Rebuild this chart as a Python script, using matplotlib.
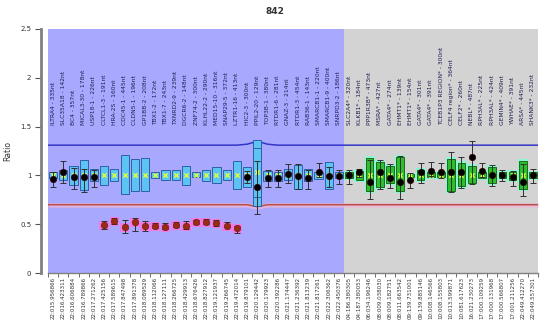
import matplotlib
matplotlib.use('Agg')
import matplotlib.pyplot as plt
import numpy as np

# probes (test region first, then reference probes marked *)
genes = [
    'ILTRA4 - 335nt', 'SLC35A18 - 142nt', 'BC4 - 357nt', 'MICAL3-30 - 178nt',
    'USP18-1 - 226nt', 'CLTCL1-3 - 191nt', 'HRA-2S - 160nt', 'CDC45-1 - 445nt',
    'CLDN5-1 - 196nt', 'GP1BB-2 - 208nt', 'TBX1-2 - 172nt', 'TBX1-7 - 243nt',
    'TXNRD2-9 - 239nt', 'DGCR6-2 - 148nt', 'ZNF74-2 - 300nt', 'KLHL22-2 - 290nt',
    'MED15-10 - 316nt', 'SNAP29-5 - 372nt', 'LZTR1-16 - 413nt', 'HIC2-3 - 300nt',
    'PPIL2-20 - 129nt', 'TOP3B-1 - 380nt', 'RTDR1-6 - 281nt', 'GNAZ-3 - 214nt',
    'RTDR1-3 - 454nt', 'RAB36-1 - 143nt', 'SMARCB1-1 - 220nt', 'SMARCB1-9 - 400nt',
    'SNRPD3-2 - 186nt',
    'SLC2A4* - 320nt', 'KLKB1* - 184nt', 'PPP1R3B* - 473nt', 'MSRA* - 427nt',
    'GATA4* - 274nt', 'EHMT1* - 139nt', 'EHMT1* - 154nt', 'GATA4* - 301nt',
    'GATA4* - 391nt', 'TCEB1P3 REGION* - 300nt', 'CELF4 region* - 364nt',
    'CELF2* - 260nt', 'NEBL* - 487nt', 'RPH3AL* - 225nt', 'RPH3AL* - 424nt',
    'GEMIN4* - 409nt', 'YWHAE* - 391nt', 'ARSA* - 445nt', 'SHANK3* - 232nt',
]
n_test = 29

coords = [
    '22:015.956866', '22:016.423311', '22:016.606884', '22:016.789866',
    '22:017.271262', '22:017.425156', '22:017.589615', '22:017.847498',
    '22:017.891378', '22:018.089529', '22:018.112066', '22:018.127111',
    '22:018.266725', '22:018.429913', '22:018.676426', '22:018.827912',
    '22:019.121937', '22:019.266745', '22:019.472014', '22:019.879101',
    '22:020.129442', '22:020.179923', '22:020.392286', '22:021.174447',
    '22:021.236392', '22:021.813239', '22:021.817261', '22:022.306362',
    '22:022.450376',
    '04:186.380305', '04:187.380053', '06:034.196246', '08:009.038030',
    '08:009.182751', '08:011.663542', '09:139.731001', '09:139.885146',
    '10:008.146566', '10:008.155803', '10:013.599871', '10:081.617623',
    '16:021.230273', '17:000.109259', '17:000.131968', '17:000.566807',
    '17:001.211256', '22:049.412270', '22:049.557301',
]

box_lo = [0.97, 0.95, 0.90, 0.85, 0.94, 0.90, 0.94, 0.81, 0.84, 0.84,
          0.97, 0.95, 0.95, 0.90, 0.98, 0.94, 0.92, 0.95, 0.86, 0.88,
          0.69, 0.94, 0.94, 0.95, 0.86, 0.94, 0.96, 0.86, 0.97,
          0.97, 0.95, 0.84, 0.88, 0.92, 0.84, 0.98, 0.95, 0.98, 0.98,
          0.84, 0.89, 0.92, 0.97, 0.92, 0.97, 0.95, 0.86, 0.97]
box_hi = [1.04, 1.06, 1.10, 1.16, 1.07, 1.10, 1.07, 1.21, 1.17, 1.18,
          1.04, 1.06, 1.06, 1.10, 1.03, 1.06, 1.09, 1.06, 1.15, 1.09,
          1.36, 1.05, 1.04, 1.07, 1.11, 1.07, 1.04, 1.14, 1.03,
          1.03, 1.05, 1.18, 1.14, 1.10, 1.19, 1.01, 1.06, 1.03, 1.03,
          1.17, 1.13, 1.10, 1.03, 1.09, 1.03, 1.04, 1.15, 1.03]
ref_mean = [1.0] * 20 + [1.03] + [1.0] * 27

ratio = [0.96, 1.03, 0.98, 0.98, 0.98, 0.49, 0.53, 0.47, 0.52, 0.48,
         0.48, 0.47, 0.49, 0.48, 0.52, 0.52, 0.51, 0.48, 0.46, 0.98,
         0.88, 0.97, 0.97, 1.01, 0.99, 0.97, 1.03, 0.99, 0.99,
         1.00, 1.04, 0.93, 1.03, 0.97, 0.93, 0.95, 1.03, 1.05, 1.04,
         1.03, 1.03, 1.19, 1.05, 1.00, 1.00, 0.98, 0.93, 1.00]
err_lo = [0.88, 0.92, 0.86, 0.83, 0.88, 0.45, 0.50, 0.41, 0.43, 0.43,
          0.46, 0.45, 0.47, 0.45, 0.50, 0.50, 0.48, 0.47, 0.41, 0.92,
          0.60, 0.88, 0.88, 0.92, 0.86, 0.86, 0.98, 0.88, 0.91,
          0.91, 0.98, 0.76, 0.86, 0.87, 0.76, 0.87, 0.92, 0.99, 0.97,
          0.83, 0.87, 0.91, 0.98, 0.89, 0.94, 0.89, 0.79, 0.92]
err_hi = [1.03, 1.15, 1.08, 1.07, 1.06, 0.53, 0.56, 0.54, 0.56, 0.53,
          0.51, 0.51, 0.52, 0.53, 0.54, 0.55, 0.54, 0.52, 0.48, 1.05,
          1.15, 1.06, 1.06, 1.12, 1.12, 1.06, 1.13, 1.09, 1.06,
          1.06, 1.07, 1.16, 1.16, 1.12, 1.20, 1.02, 1.13, 1.14, 1.13,
          1.24, 1.19, 1.35, 1.13, 1.11, 1.06, 1.05, 1.12, 1.07]

upper_lim = [1.31] * 19 + [1.32, 1.35, 1.32] + [1.31] * 26
lower_lim = [0.70] * 19 + [0.70, 0.68, 0.70] + [0.70] * 26

NARROW = ['Liberation Sans Narrow', 'DejaVu Sans']

fig = plt.figure(figsize=(5.5, 3.22), dpi=100)
fig.patch.set_facecolor('white')
ax = fig.add_axes([0.0873, 0.152, 0.891, 0.758])

n = len(genes)
x = np.arange(n)
ax.set_xlim(-0.5, n - 0.5)
ax.set_ylim(0, 2.5)

# region backgrounds
ax.axvspan(-0.5, n_test - 0.5, color='#A8A8FF', zorder=0, lw=0)
ax.axvspan(n_test - 0.5, n - 0.5, color='#D3D3D3', zorder=0, lw=0)

# threshold lines
xe = np.r_[-0.5, x, n - 0.5]
up = np.r_[upper_lim[0], upper_lim, upper_lim[-1]]
lo = np.r_[lower_lim[0], lower_lim, lower_lim[-1]]
ax.fill_between(xe, lo - 0.025, lo + 0.02, color='#F2B6D6', alpha=0.75, lw=0, zorder=1)
ax.plot(xe, up, color='#3535C8', lw=1.1, zorder=2)
ax.plot(xe, lo, color='#B8504A', lw=1.1, zorder=2)

box_lo = np.array(box_lo)
box_hi = np.array(box_hi)
test = x < n_test
ref = ~test

# reference ranges
ax.bar(x[test], (box_hi - box_lo)[test], bottom=box_lo[test], width=0.8,
       color='#5CC3F2', edgecolor='#2E5FA8', lw=0.7, zorder=3)
ax.bar(x[ref], (box_hi - box_lo)[ref] + 0.03, bottom=box_lo[ref] - 0.015, width=1.0,
       color='#8CF5D2', lw=0, zorder=3)
ax.bar(x[ref], (box_hi - box_lo)[ref], bottom=box_lo[ref], width=0.75,
       color='#2DBE2D', edgecolor='#1C6B1C', lw=0.7, zorder=3)
# inner box for PPIL2
ax.bar([20], [0.5], bottom=[0.78], width=0.8, color='none',
       edgecolor='#2E5FA8', lw=0.7, zorder=3)

ax.scatter(x, ref_mean, marker='x', s=10, color='#D8FF3A', lw=1.0, zorder=4)

# sample ratios
ratio = np.array(ratio)
err = [ratio - np.array(err_lo), np.array(err_hi) - ratio]
low = ratio < np.array(lower_lim)
ax.bar(x[low], [0.09] * low.sum(), bottom=ratio[low] - 0.045, width=0.95,
       color='#F27AE6', lw=0, zorder=3)
ax.errorbar(x, ratio, yerr=err, fmt='none', ecolor='#303030', elinewidth=0.7,
            capsize=2.2, capthick=0.7, zorder=5)
ax.scatter(x[~low], ratio[~low], s=22, color='black', edgecolor='#3A0000',
           lw=0.4, zorder=6)
ax.scatter(x[low], ratio[low], s=22, color='#9A2A14', edgecolor='#5A1A0A',
           lw=0.4, zorder=6)

# probe names inside the plot
for i, g in enumerate(genes):
    ax.text(i, 1.52, g, rotation=90, ha='center', va='bottom', fontsize=4.3,
            family=NARROW, color='#1E1E50', zorder=7)

# axes styling
ax.set_xticks(x)
ax.set_xticklabels(coords, rotation=90, fontsize=4.0, family=NARROW, color='#333333')
ax.set_xticks(np.arange(-0.5, n, 1.0), minor=True)
ax.tick_params(axis='x', which='major', length=0, pad=3)
ax.tick_params(axis='x', which='minor', length=3, color='#555555', width=0.6)
ax.set_yticks([0, 0.5, 1, 1.5, 2, 2.5])
ax.set_yticklabels(['0', '0.5', '1', '1.5', '2', '2.5'])
ax.tick_params(axis='y', length=4, color='#555555', width=0.8, pad=3,
               labelsize=5, labelcolor='#333333')
ax.set_ylabel('Ratio', fontsize=5.5, color='#333333', labelpad=6)

for s in ['top', 'right']:
    ax.spines[s].set_visible(False)
ax.spines['left'].set_position(('outward', 5))
ax.spines['left'].set_color('#808080')
ax.spines['left'].set_linewidth(2)
ax.spines['bottom'].set_color('#808080')
ax.spines['bottom'].set_linewidth(1)

fig.text(0.5, 0.965, '842', ha='center', va='center', fontsize=6.5,
         fontweight='bold', color='#333333')

fig.savefig('out.png', dpi=100)
